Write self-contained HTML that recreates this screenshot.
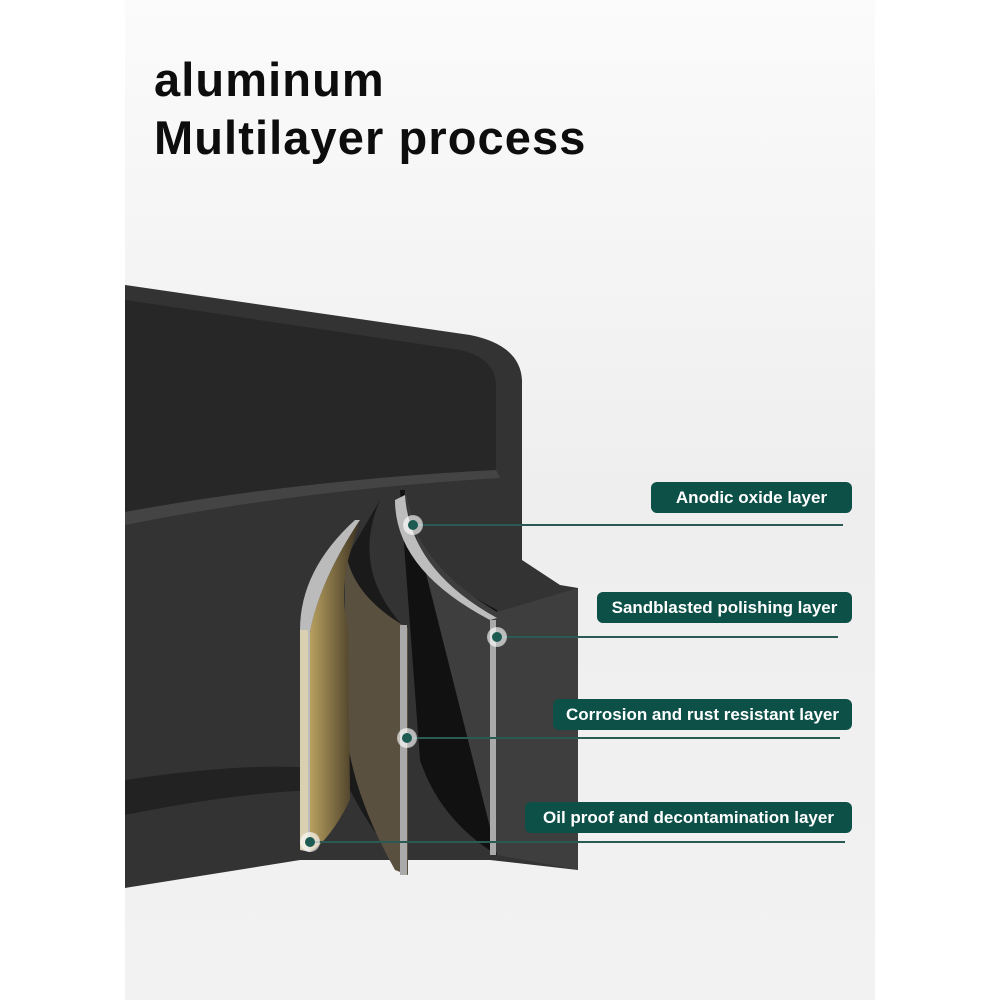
<!DOCTYPE html>
<html><head><meta charset="utf-8"><style>
html,body{margin:0;padding:0;background:#fff;}
.w{position:relative;width:1000px;height:1000px;overflow:hidden;background:#fff;}
.t{position:absolute;left:154px;font:bold 47px "Liberation Sans",sans-serif;color:#0d0d0d;letter-spacing:1.1px;}
.l{position:absolute;height:31px;background:#0d5048;border-radius:6px;color:#fff;font:600 17px "Liberation Sans",sans-serif;line-height:31px;text-align:center;right:148px;}
.ln{position:absolute;height:2px;background:#2b5a55;}
.d{position:absolute;width:10px;height:10px;border-radius:50%;background:#1c5a52;box-shadow:0 0 0 4px rgba(255,255,255,0.15),0 0 0 5px rgba(255,255,255,0.6);}
</style></head><body><div class="w">
<svg width="1000" height="1000" style="position:absolute;left:0;top:0">
<defs>
<linearGradient id="bg" x1="0" y1="0" x2="0" y2="1"><stop offset="0" stop-color="#fbfbfb"/><stop offset="0.5" stop-color="#eeeeee"/><stop offset="1" stop-color="#f2f2f2"/></linearGradient>
<linearGradient id="gd" x1="0" y1="0" x2="1" y2="0"><stop offset="0" stop-color="#b8a060"/><stop offset="1" stop-color="#3a3020"/></linearGradient>
</defs>
<rect x="125" y="0" width="750" height="1000" fill="url(#bg)"/>
<path d="M125 285 L470 335 Q520 345 522 380 L522 560 L560 585 L578 588 L578 870 L490 860 L300 860 L125 888 Z" fill="#333"/>
<path d="M125 300 L460 350 Q495 358 496 385 L496 470 Q300 480 125 512 Z" fill="#272727"/>
<path d="M125 512 Q300 480 496 470 L500 478 Q300 490 125 525 Z" fill="#444"/>
<path d="M125 780 Q260 760 330 770 L330 790 Q250 790 125 815 Z" fill="#222"/>
<path d="M405 490 Q400 560 497 610 L497 855 Q440 820 420 760 L400 490 Z" fill="#111"/>
<path d="M405 490 Q410 560 497 612 L578 588 L578 870 L497 855 Z" fill="#3e3e3e"/>
<path d="M380 500 Q350 570 405 628 L408 875 Q370 830 350 790 L345 560 Z" fill="#1a1a1a"/>
<path d="M345 530 Q340 590 408 628 L408 875 L395 870 Q350 790 345 720 Z" fill="#5a5040"/>
<path d="M355 520 Q300 570 300 630 L300 850 L310 852 L310 632 Q320 580 360 520 Z" fill="#bbb"/>
<path d="M310 632 Q320 580 360 520 L348 560 Q340 600 348 625 L350 800 Q330 840 310 852 Z" fill="url(#gd)"/>
<path d="M395 500 Q395 570 490 620 L497 618 Q410 570 405 495 Z" fill="#bdbdbd"/>
<rect x="490" y="620" width="6" height="235" fill="#aaa"/>
<rect x="400" y="625" width="7" height="250" fill="#aaa"/>
<rect x="300" y="630" width="8" height="220" fill="#d8d0b0"/>
</svg>
<div class="t" style="top:52px">aluminum</div>
<div class="t" style="top:110px">Multilayer process</div>
<div class="l" style="top:482px;width:201px">Anodic oxide layer</div>
<div class="l" style="top:592px;width:255px">Sandblasted polishing layer</div>
<div class="l" style="top:699px;width:299px">Corrosion and rust resistant layer</div>
<div class="l" style="top:802px;width:327px">Oil proof and decontamination layer</div>
<div class="ln" style="top:524px;left:415px;width:428px"></div>
<div class="ln" style="top:636px;left:498px;width:340px"></div>
<div class="ln" style="top:737px;left:408px;width:432px"></div>
<div class="ln" style="top:841px;left:310px;width:535px"></div>
<div class="d" style="left:408px;top:520px"></div>
<div class="d" style="left:492px;top:632px"></div>
<div class="d" style="left:402px;top:733px"></div>
<div class="d" style="left:305px;top:837px"></div>
</div></body></html>
